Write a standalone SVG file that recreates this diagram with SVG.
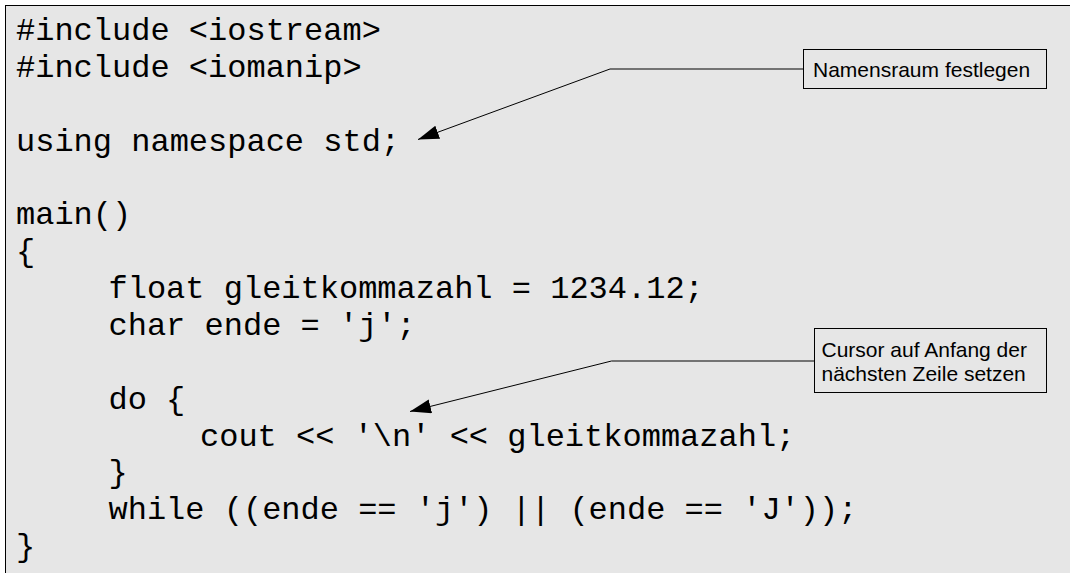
<svg xmlns="http://www.w3.org/2000/svg" width="1070" height="573" viewBox="0 0 1070 573">
  <style>
    .code { font-family: "Liberation Mono", "Courier New", monospace; font-size: 32px; fill: #000; white-space: pre; }
    .note { font-family: "Liberation Sans", Arial, sans-serif; font-size: 21px; fill: #000; }
    .box { fill: #e6e6e6; stroke: #000; stroke-width: 1; }
    .conn { fill: none; stroke: #000; stroke-width: 1; }
  </style>
  <defs>
    <marker id="arrow" markerUnits="userSpaceOnUse" markerWidth="24" markerHeight="16" refX="21" refY="7" orient="auto">
      <path d="M0,0 L21,7 L0,14 Z" fill="#000"/>
    </marker>
  </defs>
  <rect x="0" y="0" width="1070" height="573" fill="#ffffff"/>
  <rect id="panel" x="5.5" y="5.5" width="1080" height="590" fill="#e6e6e6" stroke="#000" stroke-width="1"/>

  <g id="code">
    <text class="code" x="16" y="40">#include &lt;iostream&gt;</text>
    <text class="code" x="16" y="76.9">#include &lt;iomanip&gt;</text>
    <text class="code" x="16" y="150.6">using namespace std;</text>
    <text class="code" x="16" y="224.3">main()</text>
    <text class="code" x="16" y="261.2">{</text>
    <text class="code" x="108.5" y="298">float gleitkommazahl = 1234.12;</text>
    <text class="code" x="108.5" y="334.9">char ende = 'j';</text>
    <text class="code" x="108.5" y="408.6">do {</text>
    <text class="code" x="200" y="445.5">cout &lt;&lt; '\n' &lt;&lt; gleitkommazahl;</text>
    <text class="code" x="108.5" y="482.3">}</text>
    <text class="code" x="108.5" y="519.2">while ((ende == 'j') || (ende == 'J'));</text>
    <text class="code" x="16" y="556">}</text>
  </g>

  <g id="connectors">
    <polyline class="conn" points="803,69 610,69 418,139.5" marker-end="url(#arrow)"/>
    <polyline class="conn" points="814,361 611.5,361 410,411.5" marker-end="url(#arrow)"/>
  </g>

  <g id="note-namespace">
    <rect class="box" x="803.5" y="49.5" width="243" height="39"/>
    <text class="note" x="813" y="76.5">Namensraum festlegen</text>
  </g>

  <g id="note-cursor">
    <rect class="box" x="814.5" y="328.5" width="232" height="64"/>
    <text class="note" x="821.5" y="356.7">Cursor auf Anfang der</text>
    <text class="note" x="821.5" y="380.7">nächsten Zeile setzen</text>
  </g>
</svg>
